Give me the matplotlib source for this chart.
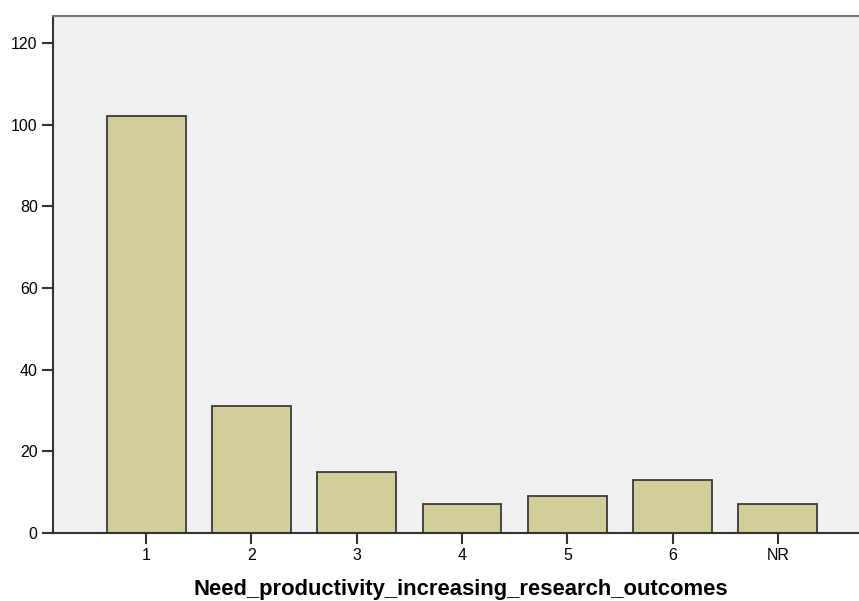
import numpy as np
import matplotlib
matplotlib.use("Agg")
import matplotlib.pyplot as plt

plt.rcParams['font.family'] = ['Liberation Sans', 'DejaVu Sans']

categories = ['1', '2', '3', '4', '5', '6', 'NR']
counts = [102, 31, 15, 7, 9, 13, 7]
yticks = [0, 20, 40, 60, 80, 100, 120]

fig = plt.figure(figsize=(8.59, 6.01), dpi=100)
# axes runs a little past the right edge, like the cropped original
ax = fig.add_axes([53/859, 68/601, 818/859, 517/601])
ax.set_facecolor('#f0f0f0')

x = np.arange(1, len(categories) + 1)
ax.bar(x, counts, width=0.75, color='#d3ce98', edgecolor='#3a3a3a', linewidth=1.3, zorder=2)

ax.set_xlim(0.117, 7.883)
ax.set_ylim(0, 126.6)
ax.set_xticks(x)
ax.set_xticklabels(categories, fontsize=11.5)
ax.set_yticks(yticks)
ax.set_yticklabels([str(v) for v in yticks], fontsize=11.5)
ax.tick_params(axis='both', length=8, width=1.5, color='#333333', pad=3)

for s in ['left', 'bottom']:
    ax.spines[s].set_linewidth(1.5)
    ax.spines[s].set_color('#333333')
ax.spines['top'].set_color('#777777')
ax.spines['top'].set_linewidth(1.5)
ax.spines['right'].set_visible(False)

# x label sits low, near the bottom edge
fig.text(460.5/859, 6/601, 'Need_productivity_increasing_research_outcomes',
         fontsize=15.8, fontweight='bold', ha='center', va='baseline')
fig.savefig('out.png', dpi=100)
